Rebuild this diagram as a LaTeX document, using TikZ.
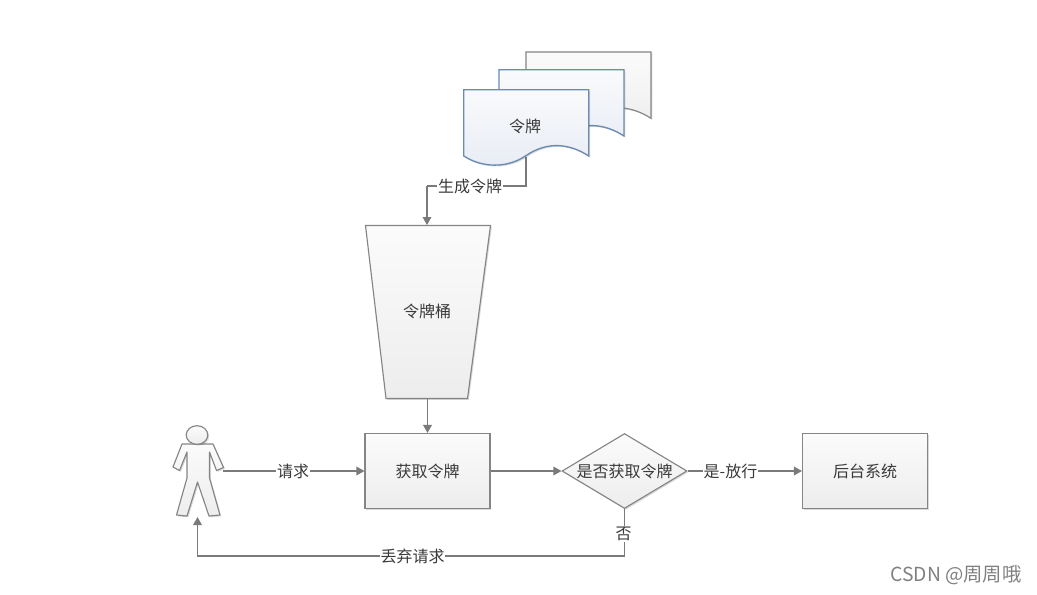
\documentclass[tikz,border=0pt]{standalone}
\usepackage{fontspec}
\setmainfont{Noto Sans CJK SC}
\usetikzlibrary{shapes.geometric,arrows.meta,shadows}
\definecolor{edgegray}{HTML}{858585}
\definecolor{linegray}{HTML}{7A7A7A}
\definecolor{docblue}{HTML}{6A8BB3}
\definecolor{txt}{HTML}{3A3A3A}
\definecolor{graytop}{HTML}{FBFBFB}
\definecolor{graybot}{HTML}{EDEDED}
\definecolor{bluetop}{HTML}{F9FAFC}
\definecolor{bluebot}{HTML}{E8ECF4}
\tikzset{
  softshadow/.style={drop shadow={shadow xshift=1pt,shadow yshift=-1pt,opacity=.15,fill=black}},
  grayfill/.style={draw=edgegray,line width=.85pt,top color=graytop,bottom color=graybot,softshadow},
  bluefill/.style={draw=docblue,line width=1pt,top color=bluetop,bottom color=bluebot,softshadow},
  procbox/.style={grayfill,rectangle,minimum width=93.75pt,minimum height=56.25pt,inner sep=0pt,text=txt,font=\fontsize{12pt}{14pt}\selectfont},
  decision/.style={grayfill,diamond,aspect=1.667,minimum width=93.75pt,minimum height=56.25pt,inner sep=0pt,text=txt,font=\fontsize{12pt}{14pt}\selectfont},
  plainlabel/.style={inner sep=0pt,text=txt,font=\fontsize{12pt}{14pt}\selectfont},
  linklabel/.style={fill=white,inner sep=.6pt,text=txt,font=\fontsize{12pt}{14pt}\selectfont},
  link/.style={draw=linegray,line width=.85pt,-{Triangle[length=6pt,width=6.5pt]}},
  linkplain/.style={draw=linegray,line width=.85pt},
}
\begin{document}
\begin{tikzpicture}[x=.75pt,y=-.75pt]
\useasboundingbox (0,0) rectangle (1037,594);
\fill[white] (0,0) rectangle (1037,594);
% stacked documents
\newcommand{\docshape}[3]{%
  \path[#3] (#1,#2) -- (#1+125,#2) -- (#1+125,#2+66.3)
    .. controls (#1+106,#2+54) and (#1+84,#2+51) .. (#1+62,#2+66)
    .. controls (#1+43,#2+79) and (#1+18,#2+78) .. (#1,#2+66.3) -- cycle;}
\docshape{526}{52}{grayfill}
\docshape{499}{69.7}{bluefill}
\coordinate (docout) at (526,157);
\coordinate (docbend) at (526,186);
\coordinate (bucketbend) at (427,186);
\node[coordinate] (bucketin) at (427,225) {};
\draw[linkplain] (docout) -- (docbend) -- (bucketbend);
\draw[link] (bucketbend) -- (bucketin);
\docshape{463.8}{89.7}{bluefill}
\node[plainlabel] (doc) at (525,126) {令牌};
\node[linklabel] (gen) at (470,186.5) {生成令牌};
% bucket
\path[grayfill] (365.5,225.5) -- (490.5,225.5) -- (467.5,398.5) -- (386,398.5) -- cycle;
\node[plainlabel] (bucket) at (427,311.5) {令牌桶};
\coordinate (bucketout) at (427.5,398.5);
% person
\path[grayfill,line join=round] (182,444) -- (213,444) -- (223.5,467.5) -- (216.5,470.5) -- (209.5,452) -- (209.5,478)
  -- (220,515) -- (209,516) -- (197.5,482) -- (187,516) -- (176.5,515) -- (187,478) -- (187,452) -- (179.5,470.5) -- (173,467) -- cycle;
\path[grayfill] (197,435) ellipse (10.8 and 9.3);
\coordinate (personout) at (223,471);
\coordinate (personin) at (197.5,517);
% process nodes
\node[procbox] (fetch) at (427.5,471) {获取令牌};
\node[decision] (judge) at (624.5,471) {是否获取令牌};
\node[procbox] (back) at (865,471) {后台系统};
% connectors
\draw[link] (bucketout) -- (fetch.north);
\draw[link] (personout) -- (fetch.west);
\node[linklabel] (req) at (293,471) {请求};
\draw[link] (fetch.east) -- (judge.west);
\draw[link] (judge.east) -- (back.west);
\node[linklabel] (pass) at (730.5,471) {是-放行};
\coordinate (dropbend) at (624.5,556);
\coordinate (personbend) at (197.5,556);
\draw[link] (judge.south) -- (dropbend) -- (personbend) -- (personin);
\node[linklabel] (no) at (623.5,534) {否};
\node[linklabel] (drop) at (412.5,556) {丢弃请求};
\node[inner sep=0pt,text=black!50,font=\fontsize{14.5pt}{16pt}\selectfont] (mark) at (956,575) {CSDN @周周哦};
\end{tikzpicture}
\end{document}
